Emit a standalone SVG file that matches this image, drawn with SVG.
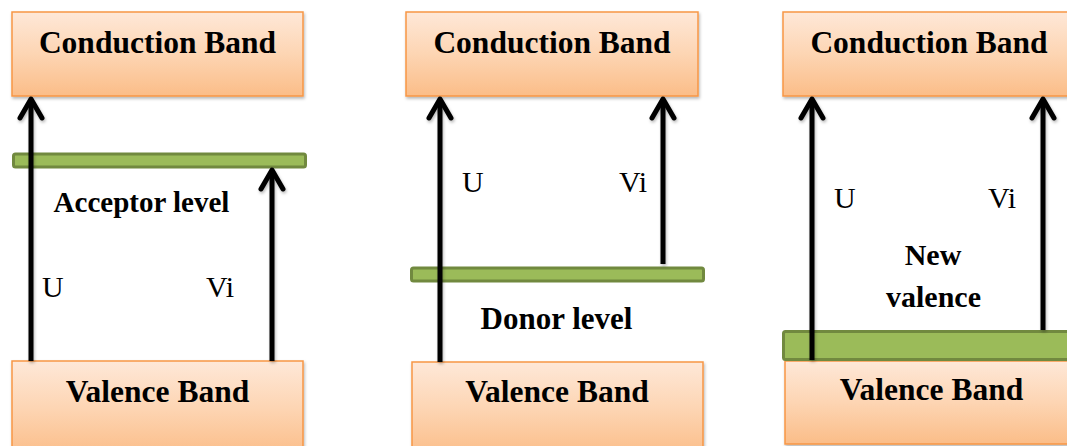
<svg xmlns="http://www.w3.org/2000/svg" width="1067" height="446" viewBox="0 0 1067 446">
  <defs>
    <linearGradient id="bandFill" x1="0" y1="0" x2="0" y2="1">
      <stop offset="0" stop-color="#FEE8D8"/>
      <stop offset="0.5" stop-color="#FDD5B3"/>
      <stop offset="1" stop-color="#FBBD88"/>
    </linearGradient>
    <filter id="shadow" x="-10%" y="-10%" width="120%" height="130%">
      <feDropShadow dx="1" dy="2" stdDeviation="1.5" flood-color="#000" flood-opacity="0.28"/>
    </filter>
    <marker id="chevron" markerUnits="userSpaceOnUse" markerWidth="30" markerHeight="30" refX="0" refY="0" orient="auto" overflow="visible">
      <path d="M -19 -11 L 0 0 L -19 11" fill="none" stroke="#000" stroke-width="5" stroke-linecap="round" stroke-linejoin="round"/>
    </marker>
    <style>
      .band { fill: url(#bandFill); stroke: #F79646; stroke-width: 1.5; filter: url(#shadow); }
      .level { fill: #9BBB59; stroke: #71893F; stroke-width: 3; }
      .title { font-family: "Liberation Serif", "Times New Roman", serif; font-weight: bold; font-size: 31.5px; fill: #000; text-anchor: middle; }
      .lbl { font-family: "Liberation Serif", "Times New Roman", serif; font-weight: bold; fill: #000; text-anchor: middle; }
      .sym { font-family: "Liberation Serif", "Times New Roman", serif; font-size: 30px; fill: #000; }
      .arrow { fill: none; stroke: #000; stroke-width: 5; marker-end: url(#chevron); }
    </style>
  </defs>

  <!-- p-type: acceptor level just above valence band -->
  <g id="p-conduction">
    <rect class="band" x="12" y="12" width="291" height="84"/>
    <text class="title" x="157.5" y="53">Conduction Band</text>
  </g>
  <g id="p-valence">
    <rect class="band" x="12" y="361" width="291" height="95"/>
    <text class="title" x="157.5" y="402">Valence Band</text>
  </g>
  <g id="p-acceptor">
    <rect class="level" x="13.5" y="154" width="292" height="13" rx="2"/>
    <text class="lbl" x="141.5" y="212" font-size="29px">Acceptor level</text>
  </g>
  <g id="p-symbols">
    <text class="sym" x="42" y="297">U</text>
    <text class="sym" x="206" y="297">Vi</text>
  </g>

  <!-- n-type: donor level just below conduction band -->
  <g id="n-conduction">
    <rect class="band" x="406" y="12" width="292" height="84"/>
    <text class="title" x="552" y="53">Conduction Band</text>
  </g>
  <g id="n-valence">
    <rect class="band" x="412" y="362" width="291" height="94"/>
    <text class="title" x="557" y="402">Valence Band</text>
  </g>
  <g id="n-donor">
    <rect class="level" x="411.5" y="268" width="292" height="13" rx="2"/>
    <text class="lbl" x="556.5" y="329" font-size="31px">Donor level</text>
  </g>
  <g id="n-symbols">
    <text class="sym" x="462" y="192">U</text>
    <text class="sym" x="619" y="192">Vi</text>
  </g>

  <!-- new valence band formed at the top of the old one -->
  <g id="v-conduction">
    <rect class="band" x="783" y="12" width="292" height="84"/>
    <text class="title" x="929" y="53">Conduction Band</text>
  </g>
  <g id="v-valence">
    <rect class="band" x="785" y="361" width="292" height="83"/>
    <text class="title" x="931.5" y="400">Valence Band</text>
  </g>
  <g id="v-newvalence">
    <rect class="level" x="783.5" y="331.5" width="290" height="28" rx="2"/>
    <text class="lbl" x="933" y="265" font-size="30px">New</text>
    <text class="lbl" x="933.5" y="307" font-size="30px">valence</text>
  </g>
  <g id="v-symbols">
    <text class="sym" x="834" y="208">U</text>
    <text class="sym" x="988" y="208">Vi</text>
  </g>

  <g id="connectors" filter="url(#shadow)">
    <path class="arrow" d="M31 361 V99"/>
    <path class="arrow" d="M272 361 V170"/>
    <path class="arrow" d="M440 362 V99"/>
    <path class="arrow" d="M663 264 V99"/>
    <path class="arrow" d="M812 360 V99"/>
    <path class="arrow" d="M1043 330 V99"/>
  </g>
</svg>
